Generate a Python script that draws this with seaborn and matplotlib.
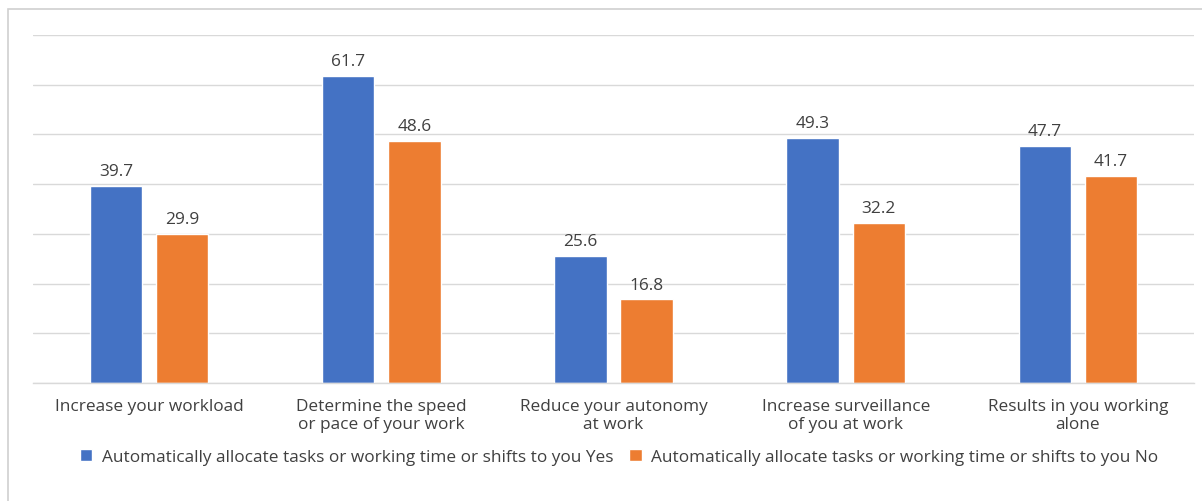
import matplotlib
matplotlib.use("Agg")
import matplotlib.pyplot as plt
import seaborn as sns
import pandas as pd
from matplotlib.patches import Rectangle

categories = [
    "Increase your workload",
    "Determine the speed\nor pace of your work",
    "Reduce your autonomy\nat work",
    "Increase surveillance\nof you at work",
    "Results in you working\nalone",
]
series_names = [
    "Automatically allocate tasks or working time or shifts to you Yes",
    "Automatically allocate tasks or working time or shifts to you No",
]
yes_values = [39.7, 61.7, 25.6, 49.3, 47.7]
no_values = [29.9, 48.6, 16.8, 32.2, 41.7]
colors = ["#4472C4", "#ED7D31"]

df = pd.DataFrame({
    "category": categories * 2,
    "series": [series_names[0]] * 5 + [series_names[1]] * 5,
    "value": yes_values + no_values,
})

sns.set_theme(style="white")
plt.rcParams["font.family"] = ["Open Sans", "DejaVu Sans"]
text_color = "#404040"
fs = 12.4

fig = plt.figure(figsize=(12.02, 5.02), dpi=100)
ax = fig.add_axes([33 / 1202, 1 - 384 / 502, (1194 - 33) / 1202, (384 - 36) / 502])

sns.barplot(data=df, x="category", y="value", hue="series", order=categories,
            hue_order=series_names, palette=colors, width=0.57, gap=0.21,
            saturation=1, ax=ax, legend=True)

ax.set_ylim(0, 70)
ax.set_yticks(range(0, 71, 10))
ax.yaxis.grid(True, color="#d9d9d9", linewidth=1)
ax.set_axisbelow(True)
ax.tick_params(axis="y", left=False, labelleft=False)
ax.tick_params(axis="x", bottom=False, labelsize=fs, colors=text_color, pad=5)
for lbl in ax.get_xticklabels():
    lbl.set_verticalalignment("top")
    lbl.set_linespacing(1.15)
ax.set_xlabel("")
ax.set_ylabel("")
for side in ["top", "right", "left"]:
    ax.spines[side].set_visible(False)
ax.spines["bottom"].set_color("#d9d9d9")
ax.spines["bottom"].set_linewidth(1)

for container in ax.containers:
    ax.bar_label(container, fmt="%.1f", padding=5, fontsize=fs, color=text_color)

handles, labels = ax.get_legend_handles_labels()
ax.legend_.remove()
fig.legend(handles, labels, loc="center", bbox_to_anchor=(0.515, 1 - 458 / 502),
           ncol=2, frameon=False, fontsize=fs, labelcolor=text_color,
           handlelength=0.75, handleheight=0.75, handletextpad=0.55, columnspacing=0.9)

# Outer chart-area border (left and top edges)
fig.patches.append(Rectangle((8 / 1202, -0.1), 1.2, 1 - 10 / 502 + 0.1,
                             transform=fig.transFigure, fill=False,
                             edgecolor="#d0d0d0", linewidth=1.2))

fig.savefig("out.png", dpi=100, facecolor="white")
